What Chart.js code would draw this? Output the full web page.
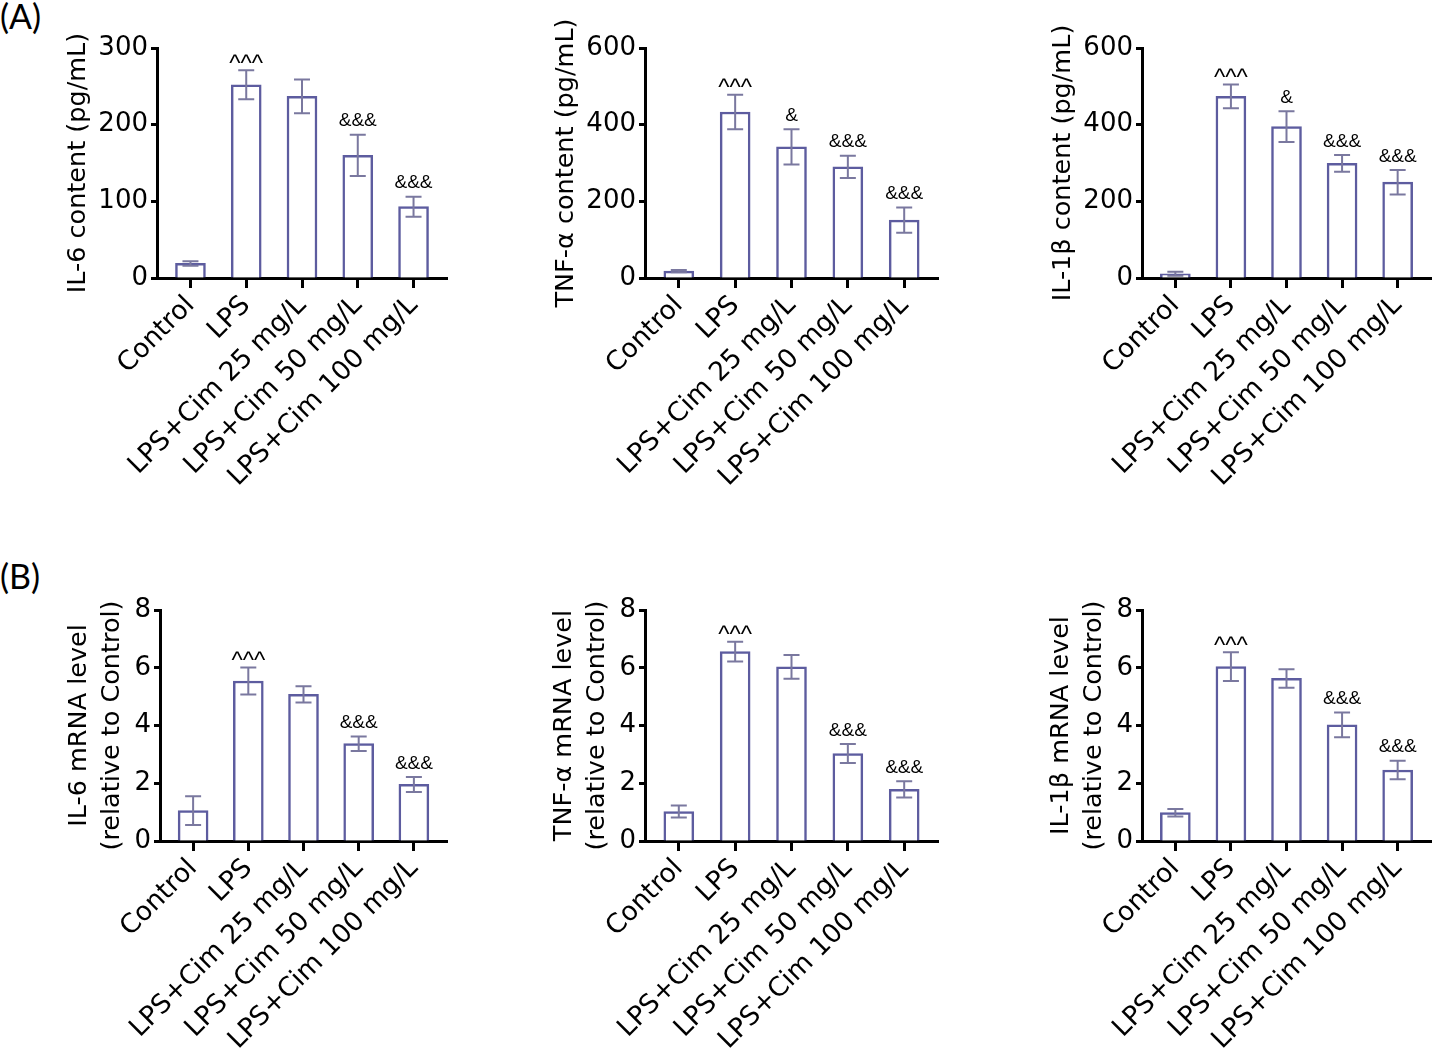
<!DOCTYPE html>
<html>
<head>
<meta charset="utf-8">
<script src="https://cdn.jsdelivr.net/npm/chart.js@4.4.1/dist/chart.umd.min.js"></script>
<style>
  body { margin: 0; background: #fff; }
  #page { position: relative; width: 1432px; height: 1060px; overflow: hidden; background: #fff; }
  #page canvas { position: absolute; }
  .panel { position: absolute; left: 0; font-family: Lato, "Liberation Sans", sans-serif; font-size: 34px; color: #000; }
</style>
</head>
<body>
<div id="page">
  <div class="panel" style="top:-5px;">(A)</div>
  <div class="panel" style="top:555px;">(B)</div>
</div>
<script>
// groups on the x axis
const groups = ['Control', 'LPS', 'LPS+Cim 25 mg/L', 'LPS+Cim 50 mg/L', 'LPS+Cim 100 mg/L'];

// (A) protein content, pg/mL (mean, error)
const il6Protein = [19, 252, 237, 160, 93];
const il6ProteinErr = [3, 19, 22, 27, 13];
const tnfProtein = [18, 433, 342, 290, 151];
const tnfProteinErr = [3, 45, 46, 29, 33];
const il1bProtein = [11, 474, 395, 299, 250];
const il1bProteinErr = [5, 31, 40, 22, 32];

// (B) mRNA level relative to Control
const il6Mrna = [1.05, 5.54, 5.08, 3.37, 1.96];
const il6MrnaErr = [0.5, 0.47, 0.28, 0.25, 0.26];
const tnfMrna = [1.02, 6.56, 6.03, 3.03, 1.79];
const tnfMrnaErr = [0.21, 0.34, 0.41, 0.33, 0.28];
const il1bMrna = [0.98, 6.04, 5.63, 4.02, 2.46];
const il1bMrnaErr = [0.13, 0.5, 0.32, 0.43, 0.32];

// significance marks above bars
const marksIl6Protein = ['', '^^^', '', '&&&', '&&&'];
const marksTnfProtein = ['', '^^^', '&', '&&&', '&&&'];
const marksIl1bProtein = ['', '^^^', '&', '&&&', '&&&'];
const marksMrna = ['', '^^^', '', '&&&', '&&&'];

// y tick labels
const il6ProteinTicks = [0, 100, 200, 300];
const cytokineProteinTicks = [0, 200, 400, 600];
const mrnaTicks = [0, 2, 4, 6, 8];

const FONT = '"DejaVu Sans", sans-serif';
const MARK_FONT = '"Liberation Sans", Arial, sans-serif';
const BAR_COLOR = '#5d5c9f';
const ERR_COLOR = '#7a789f';
const YW = 157;   // width of y axis box
const PT = 45;    // space above plot
const XH = 215;   // height of x axis box

// draws error bars and the ^/& marks
const errorBars = {
  id: 'errorBars',
  afterDatasetsDraw(chart, args, opts) {
    const ctx = chart.ctx;
    const meta = chart.getDatasetMeta(0);
    const yScale = chart.scales.y;
    const values = chart.data.datasets[0].data;
    ctx.save();
    meta.data.forEach(function (bar, i) {
      const v = values[i].y;
      const e = opts.errors[i];
      const yTop = yScale.getPixelForValue(v + e);
      const yBot = yScale.getPixelForValue(v - e);
      ctx.strokeStyle = ERR_COLOR;
      ctx.lineWidth = 2;
      ctx.beginPath();
      ctx.moveTo(bar.x, yTop);
      ctx.lineTo(bar.x, yBot);
      ctx.moveTo(bar.x - 8, yTop);
      ctx.lineTo(bar.x + 8, yTop);
      ctx.moveTo(bar.x - 8, yBot);
      ctx.lineTo(bar.x + 8, yBot);
      ctx.stroke();
      const m = opts.marks[i];
      if (m) {
        ctx.fillStyle = '#000';
        ctx.textAlign = 'center';
        ctx.textBaseline = 'bottom';
        if (m.charAt(0) === '^') {
          ctx.font = '24px ' + MARK_FONT;
          ctx.fillText(m, bar.x, yTop + 6);
        } else {
          ctx.font = '19px ' + MARK_FONT;
          ctx.fillText(m, bar.x, yTop - 4);
        }
      }
    });
    ctx.restore();
  }
};

function makeChart(c) {
  const plotW = c.right - c.axisX;
  const W = YW + plotW + 12;
  const H = PT + (c.bottom - c.top) + XH;
  const canvas = document.createElement('canvas');
  canvas.width = W;
  canvas.height = H;
  canvas.style.left = (c.axisX - YW) + 'px';
  canvas.style.top = (c.top - PT) + 'px';
  document.getElementById('page').appendChild(canvas);

  new Chart(canvas.getContext('2d'), {
    type: 'bar',
    data: {
      datasets: [{
        data: c.values.map((v, i) => ({ x: i, y: v })),
        backgroundColor: '#fff',
        borderColor: BAR_COLOR,
        borderWidth: 2.5,
        borderSkipped: 'bottom',
        barThickness: 30
      }]
    },
    options: {
      responsive: false,
      animation: false,
      layout: { padding: { top: PT, right: 12, left: 0, bottom: 0 } },
      plugins: {
        legend: { display: false },
        tooltip: { enabled: false },
        errorBars: { errors: c.errors, marks: c.marks }
      },
      scales: {
        x: {
          type: 'linear',
          offset: false,
          min: -0.6,
          max: 4.6,
          afterBuildTicks: s => { s.ticks = groups.map((g, i) => ({ value: i })); },
          afterFit: s => { s.height = XH; },
          ticks: {
            autoSkip: false,
            minRotation: 45,
            maxRotation: 45,
            color: '#000',
            padding: 2,
            font: { size: 26.5, family: FONT },
            callback: v => groups[v]
          },
          grid: { display: true, offset: false, drawOnChartArea: false, drawTicks: true, tickLength: 10, tickWidth: 3, tickColor: '#000' },
          border: { display: true, color: '#000', width: 3 }
        },
        y: {
          min: 0,
          max: c.ticks[c.ticks.length - 1],
          afterBuildTicks: s => { s.ticks = c.ticks.map(t => ({ value: t })); },
          afterFit: s => { s.width = YW; },
          ticks: { color: '#000', padding: 3, font: { size: 26, family: FONT } },
          grid: { display: true, drawOnChartArea: false, drawTicks: true, tickLength: 6, tickWidth: 3, tickColor: '#000' },
          border: { display: true, color: '#000', width: 3 },
          title: {
            display: true,
            text: c.title,
            color: '#000',
            font: { size: 25.5, family: FONT, lineHeight: 1.28 },
            padding: { top: c.titlePad, bottom: 0 }
          }
        }
      }
    },
    plugins: [errorBars]
  });
}

makeChart({ axisX: 157, right: 447, top: 48, bottom: 278, title: 'IL-6 content (pg/mL)', titlePad: 62,
  values: il6Protein, errors: il6ProteinErr, marks: marksIl6Protein, ticks: il6ProteinTicks });
makeChart({ axisX: 645, right: 938, top: 48, bottom: 278, title: 'TNF-α content (pg/mL)', titlePad: 62,
  values: tnfProtein, errors: tnfProteinErr, marks: marksTnfProtein, ticks: cytokineProteinTicks });
makeChart({ axisX: 1142, right: 1431, top: 48, bottom: 278, title: 'IL-1β content (pg/mL)', titlePad: 62,
  values: il1bProtein, errors: il1bProteinErr, marks: marksIl1bProtein, ticks: cytokineProteinTicks });

makeChart({ axisX: 160, right: 447, top: 610, bottom: 841, title: ['IL-6 mRNA level', '(relative to Control)'], titlePad: 60,
  values: il6Mrna, errors: il6MrnaErr, marks: marksMrna, ticks: mrnaTicks });
makeChart({ axisX: 645, right: 938, top: 610, bottom: 841, title: ['TNF-α mRNA level', '(relative to Control)'], titlePad: 60,
  values: tnfMrna, errors: tnfMrnaErr, marks: marksMrna, ticks: mrnaTicks });
makeChart({ axisX: 1142, right: 1431, top: 610, bottom: 841, title: ['IL-1β mRNA level', '(relative to Control)'], titlePad: 60,
  values: il1bMrna, errors: il1bMrnaErr, marks: marksMrna, ticks: mrnaTicks });
</script>
</body>
</html>
